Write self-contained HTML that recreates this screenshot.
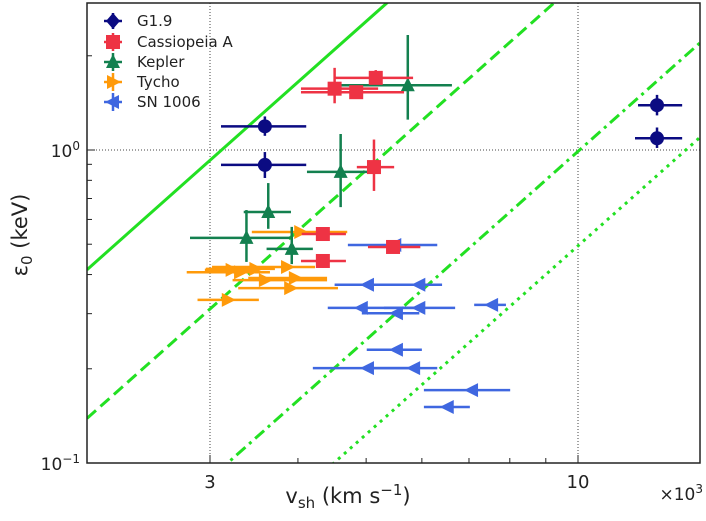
<!DOCTYPE html>
<html><head><meta charset="utf-8"><style>
html,body{margin:0;padding:0;background:#fff;width:706px;height:521px;overflow:hidden;}
#wrap{position:relative;width:706px;height:521px;overflow:hidden;}
svg{display:block;position:absolute;left:0;top:0;overflow:hidden;font-family:"DejaVu Sans","Liberation Sans",sans-serif;}
</style></head><body>
<div id="wrap">
<svg id="chart" width="706" height="521" viewBox="0 0 706 521">
<rect x="0" y="0" width="706" height="521" fill="#fff"/>
<g id="grid"></g>
<g id="lines"></g>
<g id="series"></g>
<g id="axes"></g>
</svg>
<svg width="706" height="521">
  <text x="80" y="157" text-anchor="end" font-size="17" fill="#222">10<tspan dy="-7" font-size="12">0</tspan></text>
  <text x="80" y="470" text-anchor="end" font-size="17" fill="#222">10<tspan dy="-7" font-size="12">−1</tspan></text>
  <text transform="translate(27,235) rotate(-90)" text-anchor="middle" font-size="21" fill="#222">ε<tspan dy="5" font-size="15">0</tspan><tspan dy="-5"> (keV)</tspan></text>
  <text x="348" y="503" text-anchor="middle" font-size="21" fill="#222">v<tspan dy="5" font-size="15">sh</tspan><tspan dy="-5"> (km s</tspan><tspan dy="-8" font-size="15">−1</tspan><tspan dy="8">)</tspan></text>
  <text x="703" y="500" text-anchor="end" font-size="17" fill="#222">×10<tspan dy="-7" font-size="12">3</tspan></text>
  <g font-size="15" fill="#222">
    <g>
      <line x1="104" x2="122" y1="21" y2="21" stroke="#0b0b82" stroke-width="2.5"/><line x1="113" x2="113" y1="13" y2="29" stroke="#0b0b82" stroke-width="2.5"/>
      <polygon points="113,13 120,21 113,29 106,21" fill="#0b0b82"/>
      <text x="137" y="26">G1.9</text></g>
    <g>
      <line x1="104" x2="122" y1="42" y2="42" stroke="#ee3344" stroke-width="2.5"/><line x1="113" x2="113" y1="33" y2="51" stroke="#ee3344" stroke-width="2.5"/>
      <rect x="106" y="35" width="14" height="14" fill="#ee3344"/>
      <text x="137" y="47">Cassiopeia A</text></g>
    <g>
      <line x1="104" x2="122" y1="62" y2="62" stroke="#13804f" stroke-width="2.5"/><line x1="113" x2="113" y1="53" y2="71" stroke="#13804f" stroke-width="2.5"/>
      <polygon points="113,54 120,68 106,68" fill="#13804f"/>
      <text x="137" y="67">Kepler</text></g>
    <g>
      <line x1="104" x2="122" y1="82" y2="82" stroke="#ff9a0a" stroke-width="2.5"/><line x1="113" x2="113" y1="73" y2="91" stroke="#ff9a0a" stroke-width="2.5"/>
      <polygon points="121,82 107,75 107,89" fill="#ff9a0a"/>
      <text x="137" y="87">Tycho</text></g>
    <g>
      <line x1="104" x2="122" y1="102" y2="102" stroke="#3f67e0" stroke-width="2.5"/><line x1="113" x2="113" y1="93" y2="111" stroke="#3f67e0" stroke-width="2.5"/>
      <polygon points="105,102 119,95 119,109" fill="#3f67e0"/>
      <text x="137" y="107">SN 1006</text></g>
  </g>
</svg>
</div>
<script>
// ---- data (velocity in 10^3 km/s, energy in keV) ----
const seriesNames = ["G1.9","Cassiopeia A","Kepler","Tycho","SN 1006"];
const g19V   = [3.59, 3.59, 12.95, 12.95];
const g19Vlo = [3.11, 3.11, 12.17, 12.05];
const g19Vhi = [4.11, 4.11, 14.06, 14.06];
const g19E   = [1.19, 0.896, 1.39, 1.09];
const g19Elo = [1.11, 0.814, 1.29, 1.015];
const g19Ehi = [1.28, 0.985, 1.50, 1.18];

const casV   = [4.51, 4.84, 5.16, 5.13, 4.34, 4.34, 5.46];
const casVlo = [4.04, 4.04, 4.51, 4.85, 4.05, 4.04, 5.03];
const casVhi = [5.20, 5.66, 5.83, 5.48, 4.68, 4.68, 5.97];
const casE   = [1.57, 1.53, 1.70, 0.882, 0.539, 0.442, 0.490];
const casElo = [1.41, 1.48, 1.62, 0.74, 0.52, 0.42, 0.475];
const casEhi = [1.83, 1.58, 1.80, 1.08, 0.56, 0.465, 0.505];

const kepV   = [5.73, 4.60, 3.63, 3.38, 3.92];
const kepVlo = [4.51, 4.12, 3.35, 2.81, 3.61];
const kepVhi = [6.62, 5.23, 3.91, 3.90, 4.20];
const kepE   = [1.61, 0.851, 0.634, 0.524, 0.483];
const kepElo = [1.25, 0.657, 0.56, 0.439, 0.432];
const kepEhi = [2.33, 1.125, 0.784, 0.643, 0.568];

const tycV   = [4.03, 3.86, 3.48, 3.31, 3.22, 3.59, 3.96, 3.90, 3.18];
const tycVlo = [3.44, 3.02, 2.96, 2.78, 2.95, 3.23, 3.40, 3.29, 2.88];
const tycVhi = [4.70, 4.23, 3.71, 3.65, 3.51, 4.40, 4.40, 4.56, 3.52];
const tycE   = [0.547, 0.423, 0.417, 0.407, 0.414, 0.384, 0.390, 0.362, 0.332];

const snV   = [5.50, 5.03, 5.95, 4.93, 5.53, 5.95, 7.55, 5.53, 5.03, 5.85, 7.07, 6.53];
const snVlo = [4.71, 4.51, 4.74, 4.41, 4.93, 5.30, 7.12, 5.01, 4.20, 5.03, 6.04, 6.04];
const snVhi = [6.31, 5.59, 6.41, 5.95, 5.95, 6.69, 7.90, 6.00, 5.85, 6.31, 8.01, 7.02];
const snE   = [0.497, 0.371, 0.371, 0.313, 0.301, 0.313, 0.320, 0.230, 0.201, 0.201, 0.171, 0.151];

// model lines: eps = coef * v^2
const lineCoefs = [0.103, 0.0345, 0.0099, 0.00494];
const lineDash  = ["", "12,6", "12,5,3,5", "3,5"];

const xTicks = [3, 10];
const xTickLabels = ["3", "10"];

// ---- scales ----
const L = 87, R = 700, T = 3, B = 463;
const X3 = 210, PXDEC_X = 703.8, Y1 = 150, PXDEC_Y = 313;
function sx(v){ return X3 + PXDEC_X*Math.log10(v/3); }
function sy(e){ return Y1 - PXDEC_Y*Math.log10(e); }
const vMin = 3*Math.pow(10,(L-X3)/PXDEC_X), vMax = 3*Math.pow(10,(R-X3)/PXDEC_X);
const NS = "http://www.w3.org/2000/svg";
function mk(tag, attrs, parent){
  const el = document.createElementNS(NS, tag);
  for (const k in attrs) el.setAttribute(k, attrs[k]);
  parent.appendChild(el); return el;
}
const gGrid = document.getElementById('grid'), gLines = document.getElementById('lines'),
      gSer = document.getElementById('series'), gAx = document.getElementById('axes');

const defs = mk('defs', {}, document.getElementById('chart'));
const cp = mk('clipPath', {id:'pc'}, defs);
mk('rect', {x:L, y:T, width:R-L, height:B-T}, cp);

xTicks.forEach(v=>{
  const l = mk('line', {x1:sx(v), x2:sx(v), y1:T, y2:B, stroke:'#444', 'stroke-width':1, 'stroke-dasharray':'1,2'}, gGrid);
  
  
});
{
  const l = mk('line', {x1:L, x2:R, y1:sy(1), y2:sy(1), stroke:'#444', 'stroke-width':1, 'stroke-dasharray':'1,2'}, gGrid);
  
  
}

lineCoefs.forEach((c,i)=>{
  const p = mk('line', {x1:sx(vMin), y1:sy(c*vMin*vMin), x2:sx(vMax), y2:sy(c*vMax*vMax),
    stroke:'#22e022', 'stroke-width':3, 'clip-path':'url(#pc)'}, gLines);
  if (lineDash[i]) p.setAttribute('stroke-dasharray', lineDash[i]);
  
  
});

function marker(type, x, y, color, parent){
  let el;
  const s = 7;
  if (type==='circle') el = mk('circle', {cx:x, cy:y, r:7, fill:color}, parent);
  else if (type==='square') el = mk('rect', {x:x-s, y:y-s, width:2*s, height:2*s, fill:color}, parent);
  else if (type==='up') el = mk('polygon', {points:`${x},${y-8} ${x+7},${y+6} ${x-7},${y+6}`, fill:color}, parent);
  else if (type==='right') el = mk('polygon', {points:`${x+8},${y} ${x-6},${y-7} ${x-6},${y+7}`, fill:color}, parent);
  else if (type==='left') el = mk('polygon', {points:`${x-8},${y} ${x+6},${y-7} ${x+6},${y+7}`, fill:color}, parent);
  return el;
}
function drawSeries(name, V, Vlo, Vhi, E, Elo, Ehi, color, type){
  const g = mk('g', {}, gSer);
  
  
  for (let i=0;i<V.length;i++){
    const x=sx(V[i]), y=sy(E[i]);
    const h = mk('line', {x1:sx(Vlo[i]), x2:sx(Vhi[i]), y1:y, y2:y, stroke:color, 'stroke-width':2.5}, g);
    
    
    if (Elo && Ehi){
      const vv = mk('line', {x1:x, x2:x, y1:sy(Elo[i]), y2:sy(Ehi[i]), stroke:color, 'stroke-width':2.5}, g);
      
      
    }
    const m = marker(type, x, y, color, g);
    
    
  }
}
const colors = ["#0b0b82","#ee3344","#13804f","#ff9a0a","#3f67e0"];
drawSeries('tycho', tycV, tycVlo, tycVhi, tycE, null, null, colors[3], 'right');
drawSeries('sn1006', snV, snVlo, snVhi, snE, null, null, colors[4], 'left');
drawSeries('kepler', kepV, kepVlo, kepVhi, kepE, kepElo, kepEhi, colors[2], 'up');
drawSeries('cassiopeia-a', casV, casVlo, casVhi, casE, casElo, casEhi, colors[1], 'square');
drawSeries('g1-9', g19V, g19Vlo, g19Vhi, g19E, g19Elo, g19Ehi, colors[0], 'circle');

{
  const f = mk('rect', {x:L, y:T, width:R-L, height:B-T, fill:'none', stroke:'#222', 'stroke-width':1.5}, gAx);
  
  
}
[2,3,4,5,6,7,8,9,10,20].forEach(v=>{
  if (v<vMin || v>vMax) return;
  const major = (v===3||v===10);
  const x = sx(v);
  const t = mk('line', {x1:x, x2:x, y1:B, y2:B-(major?8:5), stroke:'#222', 'stroke-width':1}, gAx);
  
  
});
[0.1,0.2,0.3,0.4,0.5,0.6,0.7,0.8,0.9,1,2].forEach(e=>{
  const y = sy(e); const major = (e===0.1||e===1);
  const t = mk('line', {x1:L, x2:L+(major?8:5), y1:y, y2:y, stroke:'#222', 'stroke-width':1}, gAx);
  
  
});
xTicks.forEach((v,i)=>{
  const t = mk('text', {x:sx(v), y:B+25, 'text-anchor':'middle', 'font-size':18, fill:'#222'}, gAx);
  t.textContent = xTickLabels[i];
  
  
});
</script>
</body></html>
